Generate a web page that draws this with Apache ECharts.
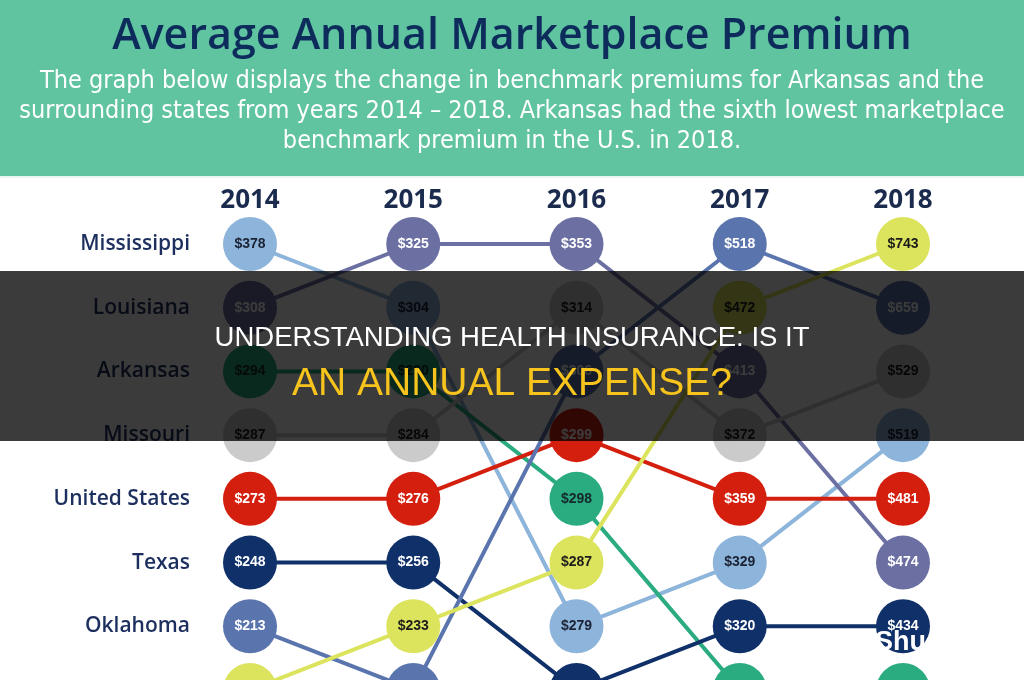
<!DOCTYPE html>
<html>
<head>
<meta charset="utf-8">
<title>Average Annual Marketplace Premium</title>
<script src="https://cdn.jsdelivr.net/npm/echarts@6/dist/echarts.min.js"></script>
<style>
  html, body { margin: 0; padding: 0; background: #fff; }
  #main { width: 1024px; height: 680px; }
</style>
</head>
<body>
<div id="main"></div>
<script>
  // 年份 / 州（行标签按 2014 排名）
  var years = ['2014', '2015', '2016', '2017', '2018'];
  var states = ['Mississippi', 'Louisiana', 'Arkansas', 'Missouri', 'United States', 'Texas', 'Oklahoma', 'Tennessee'];

  // benchmark premium per state, 2014 - 2018
  var mississippi = [378, 304, 279, 329, 519];
  var louisiana = [308, 325, 353, 413, 474];
  var arkansas = [294, 290, 298, 305, 397];
  var missouri = [287, 284, 314, 372, 529];
  var unitedStates = [273, 276, 299, 359, 481];
  var texas = [248, 256, 263, 320, 434];
  var oklahoma = [213, 226, 306, 518, 659];
  var tennessee = [203, 233, 287, 472, 743];

  var premiums = [mississippi, louisiana, arkansas, missouri, unitedStates, texas, oklahoma, tennessee];

  var colors = ['#8db4da', '#6b6fa2', '#2aac80', '#cbcbcb', '#d41f0f', '#0f3068', '#5a75ae', '#dce35c'];
  var textColors = ['#1b2233', '#ffffff', '#15282a', '#1b1b1b', '#ffffff', '#ffffff', '#ffffff', '#1b1b1b'];

  var subtitle = [
    'The graph below displays the change in benchmark premiums for Arkansas and the',
    'surrounding states from years 2014 \u2013 2018. Arkansas had the sixth lowest marketplace',
    'benchmark premium in the U.S. in 2018.'
  ];

  // rank of every state in every year (0 = highest premium)
  var ranks = states.map(function () { return []; });
  years.forEach(function (y, j) {
    var order = states.map(function (s, i) { return i; });
    order.sort(function (a, b) { return premiums[b][j] - premiums[a][j]; });
    order.forEach(function (si, r) { ranks[si][j] = r; });
  });

  var series = [];
  states.forEach(function (s, i) {
    var pts = years.map(function (y, j) { return [j, ranks[i][j], premiums[i][j]]; });
    // 连线
    series.push({
      type: 'line',
      name: s,
      data: pts,
      symbol: 'none',
      clip: false,
      z: 2,
      lineStyle: { width: 4, color: colors[i] }
    });
    // 圆圈 + 数值
    series.push({
      type: 'scatter',
      name: s,
      data: pts,
      symbolSize: 54,
      clip: false,
      z: 3,
      itemStyle: { color: colors[i], opacity: 1 },
      label: {
        show: true,
        position: 'inside',
        formatter: function (p) { return '$' + p.value[2]; },
        color: textColors[i],
        fontSize: 14,
        fontWeight: 'bold',
        fontFamily: 'Liberation Sans'
      }
    });
  });

  var graphics = [
    // header band
    { type: 'rect', left: 0, top: 0, shape: { width: 1024, height: 176 }, style: { fill: '#60c4a1' }, z: 50 },
    { type: 'rect', left: 0, top: 176, shape: { width: 1024, height: 2 }, style: { fill: '#e9f6f1' }, z: 50 },
    {
      type: 'text', left: 'center', top: 15, z: 51,
      style: { text: 'Average Annual Marketplace Premium', fill: '#0d2c5c', font: '600 43px "Open Sans"' }
    },
    // dark title overlay
    { type: 'rect', left: 0, top: 271, shape: { width: 1024, height: 170 }, style: { fill: 'rgba(0,0,0,0.77)' }, z: 100 },
    {
      type: 'text', left: 'center', top: 324, z: 101,
      style: { text: 'UNDERSTANDING HEALTH INSURANCE: IS IT', fill: '#ffffff', font: '27.5px "Liberation Sans"' }
    },
    {
      type: 'text', left: 'center', top: 365, z: 101,
      style: { text: 'AN ANNUAL EXPENSE?', fill: '#f6c41c', font: '39px "Liberation Sans"' }
    },
    {
      type: 'text', left: 875, top: 629, z: 101,
      style: { text: 'Shu', fill: '#ffffff', font: 'bold 27px "Liberation Sans"' }
    }
  ];
  subtitle.forEach(function (line, k) {
    graphics.push({
      type: 'text', left: 'center', top: 69 + k * 30, z: 51,
      style: { text: line, fill: '#ffffff', font: '25px "DejaVu Sans Condensed"' }
    });
  });

  var chart = echarts.init(document.getElementById('main'));
  chart.setOption({
    animation: false,
    backgroundColor: '#ffffff',
    grid: { left: 250, top: 244, width: 653, height: 446, containLabel: false, outerBoundsMode: 'none' },
    xAxis: {
      type: 'category',
      data: years,
      position: 'top',
      boundaryGap: false,
      axisLine: { show: false },
      axisTick: { show: false },
      splitLine: { show: false },
      axisLabel: { fontSize: 26, fontWeight: 'bold', color: '#1b2b4d', margin: 30, fontFamily: 'Open Sans' }
    },
    yAxis: {
      type: 'category',
      data: states,
      inverse: true,
      boundaryGap: false,
      axisLine: { show: false },
      axisTick: { show: false },
      splitLine: { show: false },
      axisLabel: { fontSize: 21, fontWeight: 600, color: '#1d2f5f', margin: 60, fontFamily: 'Open Sans' }
    },
    graphic: graphics,
    series: series
  });
</script>
</body>
</html>
